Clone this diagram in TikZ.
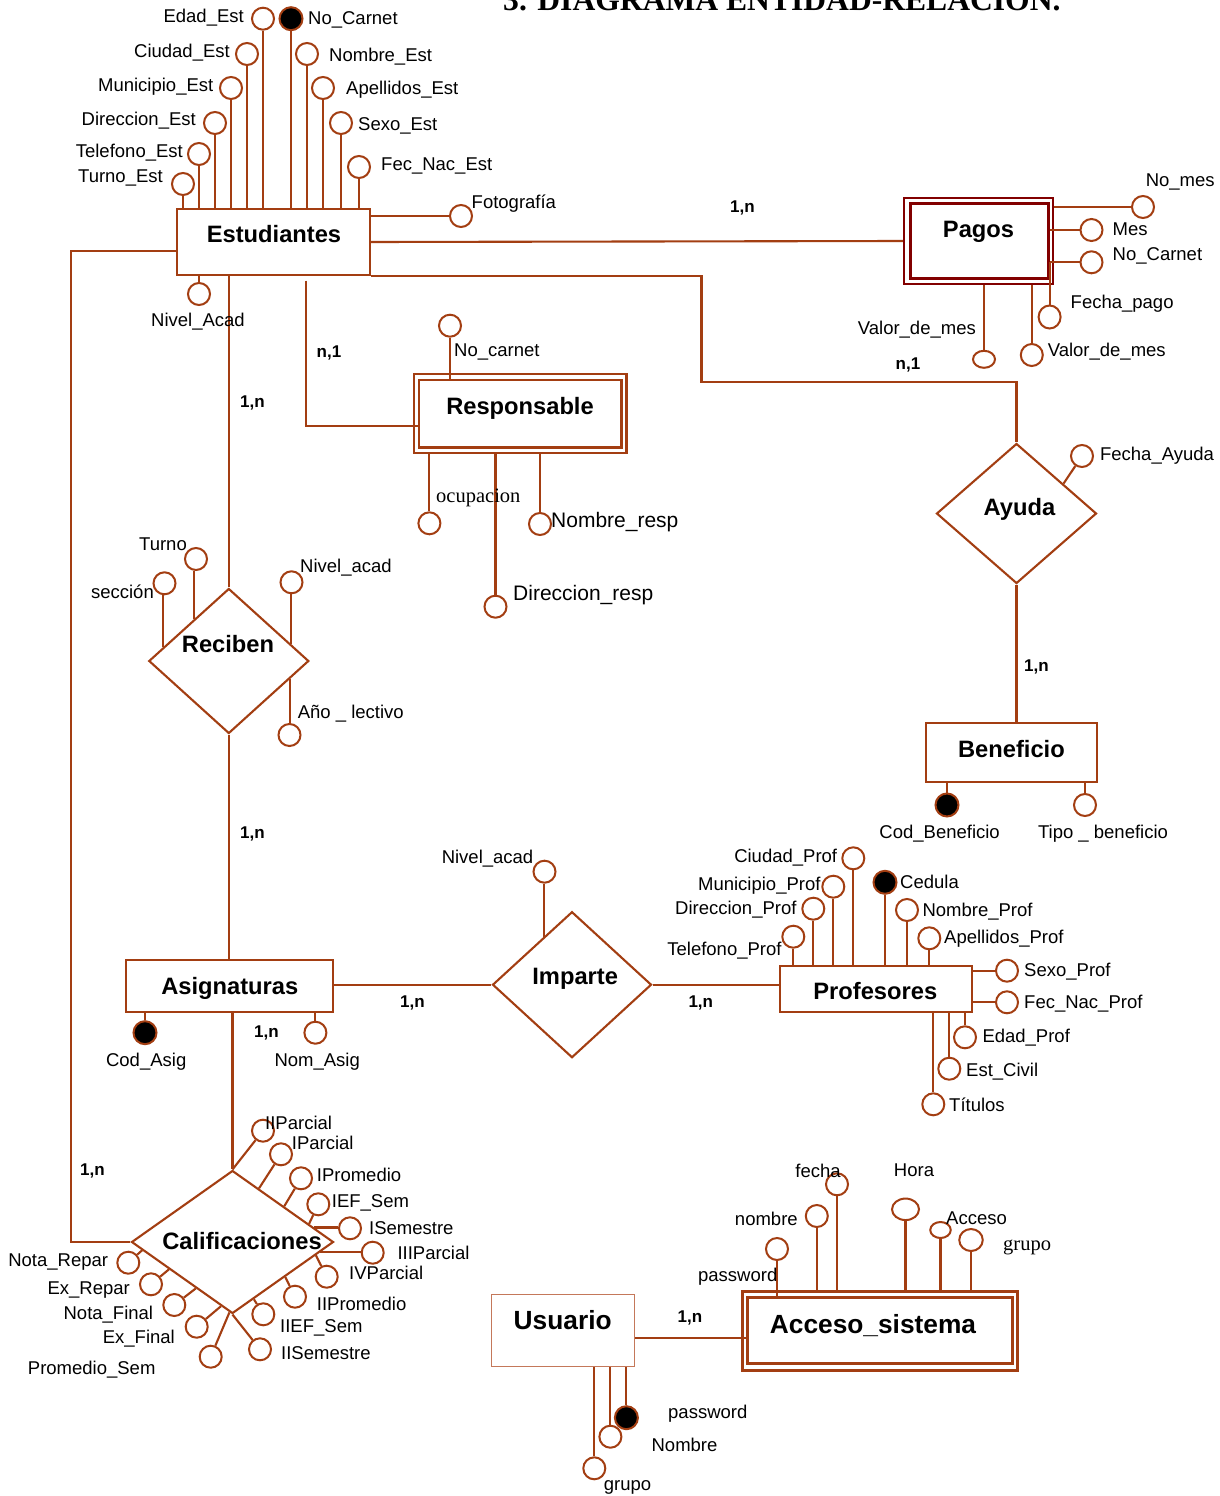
\documentclass[tikz,border=0pt]{standalone}
\usepackage{fontspec}
\setmainfont{Liberation Sans}
\newfontfamily\serifont{Liberation Serif}
\usetikzlibrary{shapes.geometric,calc}
\definecolor{brn}{RGB}{163,62,18}
\definecolor{drd}{RGB}{130,0,0}
\definecolor{lbrn}{RGB}{196,120,90}
\tikzset{
  cn/.style={draw=brn, line width=2.1pt},
  attr/.style={circle, draw=brn, line width=2pt, fill=white, minimum size=22pt, inner sep=0pt},
  kattr/.style={attr, fill=black, minimum size=23pt},
  eattr/.style={ellipse, draw=brn, line width=2pt, fill=white, inner sep=0pt},
  entbox/.style={rectangle, draw=brn, line width=2.1pt, inner sep=0pt},
  relac/.style={diamond, draw=brn, line width=2.1pt, inner sep=0pt},
  lbl/.style={inner sep=0pt, font=\fontsize{18.5}{22}\selectfont, text height=13.25pt, text depth=0pt},
  lbig/.style={inner sep=0pt, font=\fontsize{21}{24}\selectfont, text height=15pt, text depth=0pt},
  slbl/.style={inner sep=0pt, font=\serifont\fontsize{20.5}{24}\selectfont},
  cardl/.style={inner sep=0pt, font=\bfseries\fontsize{17}{20}\selectfont, text height=12.2pt, text depth=0pt},
  ename/.style={inner sep=0pt, font=\bfseries\fontsize{23.7}{28}\selectfont, text height=17pt, text depth=0pt},
  ebig/.style={inner sep=0pt, font=\bfseries\fontsize{26.3}{30}\selectfont, text height=18.8pt, text depth=0pt},
  titl/.style={inner sep=0pt, font=\serifont\bfseries\fontsize{31.6}{36}\selectfont},
}
\begin{document}
\begin{tikzpicture}[x=1pt,y=-1pt]
\fill[white] (0,0) rectangle (1220,1496);
\useasboundingbox (0,0) rectangle (1220,1496);

% ---------- title ----------
\node[titl, anchor=base west] (title) at (503,10.5) {3. DIAGRAMA ENTIDAD-RELACION.};

% ---------- entities ----------
\node[entbox, minimum width=193pt, minimum height=66pt] (est) at (273.5,242) {};
\node[ename] (estT) at (274,234.2) {Estudiantes};

\node[rectangle, draw=drd, line width=2.5pt, minimum width=149pt, minimum height=86pt, inner sep=0pt] (pagO) at (978.5,241) {};
\node[rectangle, draw=drd, line width=3pt, minimum width=138pt, minimum height=75pt, inner sep=0pt] (pagI) at (979,240.5) {};
\node[ename] (pagT) at (978.5,228.7) {Pagos};

\node[rectangle, draw=brn, line width=2.3pt, minimum width=212.5pt, minimum height=78.4pt, inner sep=0pt] (respO) at (520.25,413.5) {};
\node[rectangle, draw=brn, line width=2.5pt, minimum width=202.6pt, minimum height=67.3pt, inner sep=0pt] (respI) at (520.3,413.65) {};
\node[ename] (resT) at (520,405.8) {Responsable};

\node[entbox, minimum width=171.7pt, minimum height=58.7pt] (benef) at (1011.45,752.65) {};
\node[ename] (benT) at (1011.4,748.7) {Beneficio};

\node[entbox, minimum width=207.4pt, minimum height=52pt] (asig) at (229.6,985.7) {};
\node[ename] (asiT) at (229.8,985.5) {Asignaturas};

\node[entbox, minimum width=191.7pt, minimum height=46.6pt] (prof) at (875.85,989) {};
\node[ename] (proT) at (875.3,990.5) {Profesores};

\node[rectangle, draw=lbrn, line width=1.5pt, minimum width=142.9pt, minimum height=72.4pt, inner sep=0pt] (usu) at (562.85,1330.5) {};
\node[ebig] (usuT) at (562.7,1320.3) {Usuario};

\node[rectangle, draw=brn, line width=3pt, minimum width=275pt, minimum height=78.3pt, inner sep=0pt] (accO) at (880,1330.85) {};
\node[rectangle, draw=brn, line width=3pt, minimum width=264.1pt, minimum height=65.6pt, inner sep=0pt] (accI) at (879.95,1330.5) {};
\node[ebig] (accT) at (873,1324.5) {Acceso\_sistema};

% ---------- relationships ----------
\node[relac, minimum width=160pt, minimum height=145pt] (rec) at (228.8,661) {};
\node[ename] (recT) at (228,643.8) {Reciben};
\node[relac, minimum width=160pt, minimum height=140pt] (ayu) at (1016.5,513.5) {};
\node[ename] (ayuT) at (1019.5,507.2) {Ayuda};
\node[relac, minimum width=159pt, minimum height=146pt] (imp) at (572,984.7) {};
\node[ename] (impT) at (575.2,976.3) {Imparte};
\node[relac, minimum width=202pt, minimum height=143pt] (cal) at (232.5,1242) {};
\node[ename] (calT) at (242,1241) {Calificaciones};

% ---------- relationship connectors ----------
\coordinate (k1) at (701.5,381.7);
\coordinate (k2) at (306,280.7);
\coordinate (k3) at (306,425.7);
\coordinate (k4) at (71,251);
\coordinate (k5) at (640,1337.7);
\draw[cn] (est.east) -- (pagO.west);
\draw[cn] (est.south east) -| (k1) -| (ayu.north);
\draw[cn] (k2) -- (k3) -- (k3 -| respI.west);
\draw[cn] (est.south -| rec.north) -- (rec.north);
\draw[cn] (est.west |- k4) -- (k4) |- (cal.west);
\draw[cn] (rec.south) -- (rec.south |- asig.north);
\draw[cn] (asig.south -| cal.north) -- (cal.north);
\draw[cn] (asig.east |- imp.west) -- (imp.west);
\draw[cn] (imp.east) -- (imp.east -| prof.west);
\draw[cn] (ayu.south) -- (ayu.south |- benef.north);
\draw[cn] (usu.east |- k5) -- (accI.west |- k5);

% ---------- cardinalities ----------
\node[cardl] (c1) at (742.5,206) {1,n};
\node[cardl] (c2) at (908,363) {n,1};
\node[cardl] (c3) at (252.5,401) {1,n};
\node[cardl] (c4) at (329,351) {n,1};
\node[cardl] (c5) at (252.5,832) {1,n};
\node[cardl] (c6) at (1036.5,665) {1,n};
\node[cardl] (c7) at (266.5,1031) {1,n};
\node[cardl] (c8) at (412.4,1001.2) {1,n};
\node[cardl] (c9) at (700.8,1001.2) {1,n};
\node[cardl] (c10) at (92.5,1169.7) {1,n};
\node[cardl] (c11) at (690,1316.3) {1,n};

% ---------- Estudiantes attributes ----------
\node[attr] (eA1) at (183,184) {};
\node[attr] (eA2) at (199,154) {};
\node[attr] (eA3) at (215,123) {};
\node[attr] (eA4) at (231,88) {};
\node[attr] (eA5) at (247,54) {};
\node[attr] (eA6) at (263,18.7) {};
\node[kattr] (eK) at (291,18.7) {};
\node[attr] (eA7) at (307,54) {};
\node[attr] (eA8) at (323,88) {};
\node[attr] (eA9) at (341,123) {};
\node[attr] (eA10) at (359,167) {};
\node[attr] (eF) at (461,216) {};
\node[attr] (eN) at (199,294) {};
\foreach \c in {eA1,eA2,eA3,eA4,eA5,eA6,eK,eA7,eA8,eA9,eA10}
  \draw[cn] (est.north -| \c) -- (\c.south);
\draw[cn] (est.east |- eF) -- (eF.west);
\draw[cn] (est.south -| eN) -- (eN.north);
\node[lbl, anchor=east] (tA1) at (163,176) {Turno\_Est};
\node[lbl, anchor=east] (tA2) at (183,151) {Telefono\_Est};
\node[lbl, anchor=east] (tA3) at (196,119) {Direccion\_Est};
\node[lbl, anchor=east] (tA4) at (213.5,85) {Municipio\_Est};
\node[lbl, anchor=east] (tA5) at (230,51) {Ciudad\_Est};
\node[lbl, anchor=east] (tA6) at (244,16) {Edad\_Est};
\node[lbl, anchor=west] (tK) at (308,17.8) {No\_Carnet};
\node[lbl, anchor=west] (tA7) at (329,55) {Nombre\_Est};
\node[lbl, anchor=west] (tA8) at (346,88) {Apellidos\_Est};
\node[lbl, anchor=west] (tA9) at (358,124) {Sexo\_Est};
\node[lbl, anchor=west] (tA10) at (381,164) {Fec\_Nac\_Est};
\node[lbl, anchor=west] (tF) at (471.5,202) {Fotografía};
\node[lbl] (tN) at (198,320) {Nivel\_Acad};

% ---------- Pagos attributes ----------
\node[attr] (pNm) at (1143,207) {};
\node[attr] (pMes) at (1091.5,230) {};
\node[attr] (pNc) at (1091.5,262.3) {};
\node[eattr, minimum width=22pt, minimum height=23pt] (pFp) at (1049.6,317) {};
\node[attr] (pV2) at (1031.8,355) {};
\node[eattr, minimum width=22pt, minimum height=17pt] (pV1) at (984,359.3) {};
\draw[cn] (pagO.east |- pNm) -- (pNm.west);
\draw[cn] (pagI.east |- pMes) -- (pMes.west);
\draw[cn] (pagI.east |- pNc) -- (pNc.west);
\draw[cn] (pFp.north |- pNc) -- (pFp.north);
\draw[cn] (pagO.south -| pV2) -- (pV2.north);
\draw[cn] (pagO.south -| pV1) -- (pV1.north);
\node[lbl, anchor=west] (tNm) at (1145.6,180) {No\_mes};
\node[lbl, anchor=west] (tMes) at (1112.5,229) {Mes};
\node[lbl, anchor=west] (tNc) at (1112.5,253.7) {No\_Carnet};
\node[lbl, anchor=west] (tFp) at (1070.5,302) {Fecha\_pago};
\node[lbl, anchor=west] (tV2) at (1047.6,349.7) {Valor\_de\_mes};
\node[lbl, anchor=east] (tV1) at (976,327.7) {Valor\_de\_mes};

% ---------- Responsable attributes ----------
\node[attr] (rNc) at (450,325.7) {};
\node[attr] (rOc) at (429.4,523.3) {};
\node[attr] (rDr) at (495.5,606.7) {};
\node[attr] (rNr) at (540,524) {};
\draw[cn] (respI.north -| rNc) -- (rNc.south);
\draw[cn] (respO.south -| rOc) -- (rOc.north);
\draw[cn] (respO.south -| rDr) -- (rDr.north);
\draw[cn] (respO.south -| rNr) -- (rNr.north);
\node[lbl, anchor=west] (tRNc) at (454,350) {No\_carnet};
\node[slbl, anchor=base west] (tOc) at (436,502.7) {ocupacion};
\node[lbig, anchor=west] (tDr) at (513,592.5) {Direccion\_resp};
\node[lbig, anchor=west] (tNr) at (551,519.8) {Nombre\_resp};

% ---------- Reciben attributes ----------
\node[attr] (rcS) at (164.5,583.3) {};
\node[attr] (rcT) at (196,559) {};
\node[attr] (rcN) at (291.5,582.3) {};
\node[attr] (rcA) at (289.5,735) {};
\coordinate (q1) at ($(rec.west)!0.184!(rec.north)$);
\coordinate (q2) at ($(rec.west)!0.573!(rec.north)$);
\coordinate (q3) at ($(rec.north)!0.7725!(rec.east)$);
\coordinate (q4) at ($(rec.east)!0.244!(rec.south)$);
\draw[cn] (q1) -- (q1 |- rcS.south);
\draw[cn] (q2) -- (q2 |- rcT.south);
\draw[cn] (q3) -- (q3 |- rcN.south);
\draw[cn] (q4) -- (q4 |- rcA.north);
\node[lbl, anchor=east] (tS) at (154,592) {sección};
\node[lbl, anchor=east] (tT) at (187,543.7) {Turno};
\node[lbl, anchor=west] (tRN) at (300,566.3) {Nivel\_acad};
\node[lbl, anchor=west] (tRA) at (297.6,712.2) {Año \_ lectivo};

% ---------- Ayuda / Beneficio ----------
\node[attr] (aF) at (1082,456) {};
\coordinate (q5) at ($(ayu.north)!0.58!(ayu.east)$);
\draw[cn] (q5) -- (aF);
\node[lbl, anchor=west] (tAF) at (1099.9,453.7) {Fecha\_Ayuda};
\node[kattr] (bC) at (947,805) {};
\node[attr] (bT) at (1085,805) {};
\draw[cn] (benef.south -| bC) -- (bC.north);
\draw[cn] (benef.south -| bT) -- (bT.north);
\node[lbl] (tBC) at (939.6,832.2) {Cod\_Beneficio};
\node[lbl] (tBT) at (1103,832) {Tipo \_ beneficio};

% ---------- Asignaturas / Imparte ----------
\node[kattr] (sC) at (145,1032.7) {};
\node[attr] (sN) at (315.4,1032.7) {};
\draw[cn] (asig.south -| sC) -- (sC.north);
\draw[cn] (asig.south -| sN) -- (sN.north);
\node[lbl] (tSC) at (146.2,1060) {Cod\_Asig};
\node[lbl] (tSN) at (317.2,1060) {Nom\_Asig};
\node[attr] (iN) at (544.5,871.7) {};
\coordinate (q6) at ($(imp.west)!0.648!(imp.north)$);
\draw[cn] (q6) -- (q6 |- iN.south);
\node[lbl, anchor=east] (tIN) at (533.5,857) {Nivel\_acad};

% ---------- Profesores attributes ----------
\node[attr] (fTe) at (793.3,936.7) {};
\node[attr] (fDi) at (813.3,908.7) {};
\node[attr] (fMu) at (833.3,886.7) {};
\node[attr] (fCi) at (853.3,858.3) {};
\node[kattr] (fCe) at (885,882.3) {};
\node[attr] (fNo) at (907,910) {};
\node[attr] (fAp) at (929.3,938.3) {};
\node[attr] (fSe) at (1007,970.7) {};
\node[attr] (fFe) at (1007,1002.3) {};
\node[attr] (fEd) at (965,1037.3) {};
\node[attr] (fEc) at (949.3,1068.7) {};
\node[attr] (fTi) at (933.3,1104.3) {};
\foreach \c in {fTe,fDi,fMu,fCi,fCe,fNo,fAp}
  \draw[cn] (prof.north -| \c) -- (\c.south);
\foreach \c in {fSe,fFe}
  \draw[cn] (prof.east |- \c) -- (\c.west);
\foreach \c in {fEd,fEc,fTi}
  \draw[cn] (prof.south -| \c) -- (\c.north);
\node[lbl, anchor=east] (tfTe) at (781.7,948.7) {Telefono\_Prof};
\node[lbl, anchor=east] (tfDi) at (796.7,907.8) {Direccion\_Prof};
\node[lbl, anchor=east] (tfMu) at (820.7,883.7) {Municipio\_Prof};
\node[lbl, anchor=east] (tfCi) at (837.3,855.8) {Ciudad\_Prof};
\node[lbl, anchor=west] (tfCe) at (900,882.3) {Cedula};
\node[lbl, anchor=west] (tfNo) at (922.3,909.7) {Nombre\_Prof};
\node[lbl, anchor=west] (tfAp) at (944,937) {Apellidos\_Prof};
\node[lbl, anchor=west] (tfSe) at (1024,969.7) {Sexo\_Prof};
\node[lbl, anchor=west] (tfFe) at (1024,1002) {Fec\_Nac\_Prof};
\node[lbl, anchor=west] (tfEd) at (982.3,1035.8) {Edad\_Prof};
\node[lbl, anchor=west] (tfEc) at (966,1069.7) {Est\_Civil};
\node[lbl, anchor=west] (tfTi) at (949,1105) {Títulos};

% ---------- Calificaciones attributes ----------
\node[attr] (cIIP) at (263,1130.7) {};
\node[attr] (cIP) at (281,1154.3) {};
\node[attr] (cIPr) at (301,1178.3) {};
\node[attr] (cIEF) at (318.3,1204.3) {};
\node[attr] (cIS) at (350,1228.3) {};
\node[attr] (cIIIP) at (372.7,1252.7) {};
\node[attr] (cIVP) at (326.7,1276.7) {};
\node[attr] (cIIPr) at (295,1296.7) {};
\node[attr] (cIIEF) at (263.3,1314.3) {};
\node[attr] (cIIS) at (260,1349.3) {};
\node[attr] (cPS) at (210.7,1356.7) {};
\node[attr] (cEF) at (196.7,1326.7) {};
\node[attr] (cNF) at (174.3,1305) {};
\node[attr] (cER) at (151,1284.3) {};
\node[attr] (cNR) at (128.3,1262.7) {};
\draw[cn] (cal.north) -- (cIIP);
\draw[cn] ($(cal.north)!0.26!(cal.east)$) -- (cIP);
\draw[cn] ($(cal.north)!0.507!(cal.east)$) -- (cIPr);
\draw[cn] ($(cal.north)!0.75!(cal.east)$) -- (cIEF);
\coordinate (q7) at ($(cal.north)!0.8!(cal.east)$);
\draw[cn] (q7) -- (q7 -| cIS.west);
\coordinate (q8) at ($(cal.east)!0.142!(cal.south)$);
\draw[cn] (q8) -- (q8 -| cIIIP.west);
\draw[cn] ($(cal.east)!0.183!(cal.south)$) -- (cIVP);
\draw[cn] ($(cal.east)!0.483!(cal.south)$) -- (cIIPr);
\draw[cn] ($(cal.east)!0.79!(cal.south)$) -- (cIIEF);
\draw[cn] (cal.south) -- (cIIS);
\draw[cn] ($(cal.west)!0.97!(cal.south)$) -- (cPS);
\draw[cn] ($(cal.west)!0.886!(cal.south)$) -- (cEF);
\draw[cn] ($(cal.west)!0.64!(cal.south)$) -- (cNF);
\draw[cn] ($(cal.west)!0.377!(cal.south)$) -- (cER);
\draw[cn] ($(cal.west)!0.114!(cal.south)$) -- (cNR);
\node[lbl, anchor=west] (tcIIP) at (265,1123) {IIParcial};
\node[lbl, anchor=west] (tcIP) at (291.7,1143) {IParcial};
\node[lbl, anchor=west] (tcIPr) at (316.7,1174.7) {IPromedio};
\node[lbl, anchor=west] (tcIEF) at (331.7,1201.3) {IEF\_Sem};
\node[lbl, anchor=west] (tcIS) at (369,1228.3) {ISemestre};
\node[lbl, anchor=west] (tcIIIP) at (397.3,1252.8) {IIIParcial};
\node[lbl, anchor=west] (tcIVP) at (349,1273.3) {IVParcial};
\node[lbl, anchor=west] (tcIIPr) at (316.7,1304) {IIPromedio};
\node[lbl, anchor=west] (tcIIEF) at (280,1325.7) {IIEF\_Sem};
\node[lbl, anchor=west] (tcIIS) at (281,1353.3) {IISemestre};
\node[lbl] (tcPS) at (91.7,1367.7) {Promedio\_Sem};
\node[lbl, anchor=east] (tcEF) at (175,1336.7) {Ex\_Final};
\node[lbl, anchor=east] (tcNF) at (153.3,1312.7) {Nota\_Final};
\node[lbl, anchor=east] (tcER) at (130,1288.3) {Ex\_Repar};
\node[lbl, anchor=east] (tcNR) at (108.3,1260) {Nota\_Repar};

% ---------- Acceso_sistema attributes ----------
\node[attr] (xPw) at (777,1249) {};
\node[attr] (xNo) at (816.8,1216) {};
\node[attr] (xFe) at (837,1184.3) {};
\node[eattr, minimum width=27pt, minimum height=21.5pt] (xHo) at (905.5,1209.3) {};
\node[eattr, minimum width=20.5pt, minimum height=16pt] (xAc) at (940.5,1230) {};
\node[eattr, minimum width=23.5pt, minimum height=22pt] (xGr) at (971,1240) {};
\draw[cn] (accI.north -| xPw) -- (xPw.south);
\foreach \c in {xNo,xFe,xHo,xAc,xGr}
  \draw[cn] (accO.north -| \c) -- (\c.south);
\node[lbl, anchor=east] (txPw) at (777.5,1275.3) {password};
\node[lbl, anchor=east] (txNo) at (797.9,1219.3) {nombre};
\node[lbl] (txFe) at (818,1171) {fecha};
\node[lbl] (txHo) at (914,1170.3) {Hora};
\node[lbl, anchor=west] (txAc) at (946,1218.3) {Acceso};
\node[slbl, anchor=base west] (txGr) at (1003,1250) {grupo};

% ---------- Usuario attributes ----------
\node[kattr] (uPw) at (626.4,1417.7) {};
\node[attr] (uNo) at (610.4,1436.7) {};
\node[attr] (uGr) at (594.3,1468.3) {};
\foreach \c in {uPw,uNo,uGr}
  \draw[cn] (usu.south -| \c) -- (\c.north);
\node[lbl, anchor=west] (tuPw) at (668,1411.7) {password};
\node[lbl, anchor=west] (tuNo) at (651.4,1445.3) {Nombre};
\node[lbl, anchor=base west] (tuGr) at (603.6,1490) {grupo};
\end{tikzpicture}
\end{document}
